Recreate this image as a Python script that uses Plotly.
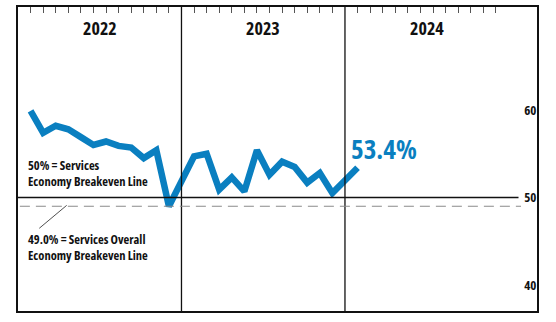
import plotly.graph_objects as go

# ---------------- data ----------------
years = ["2022", "2023", "2024"]
month_numbers = list(range(1, 13))
values_2022 = [59.9, 57.4, 58.2, 57.8, 56.9, 56.0, 56.4, 55.9, 55.7, 54.5, 55.4, 49.0]
values_2023 = [54.7, 55.0, 50.9, 52.3, 50.7, 55.4, 52.6, 54.1, 53.5, 51.7, 52.8, 50.5]
values_2024 = [53.4]
y_tick_values = [40, 50, 60]
breakeven = 50.0
overall_breakeven = 49.0

series = [values_2022, values_2023, values_2024]
SLOT = 13  # month slots per year block (12 months + divider gap)

xs, ys = [], []
for yi, vals in enumerate(series):
    for mi, v in enumerate(vals):
        xs.append(yi * SLOT + month_numbers[mi])
        ys.append(v)

FONT = "Open Sans"
BLUE = "#0a7fc0"


def cond(s):
    return f'<span style="font-stretch:75%;font-weight:bold">{s}</span>'


X_MAX = 41.27
Y_MIN, Y_MAX = 37.03, 71.77

fig = go.Figure()
fig.add_trace(go.Scatter(
    x=xs, y=ys, mode="lines",
    line=dict(color=BLUE, width=6.5),
    hoverinfo="skip", showlegend=False,
))

# year dividers
for yi in range(1, len(years)):
    fig.add_shape(type="line", xref="x", yref="paper",
                  x0=yi * SLOT, x1=yi * SLOT, y0=0, y1=1,
                  line=dict(color="#111111", width=1.3))

# breakeven lines
fig.add_shape(type="line", xref="x", yref="y", x0=0, x1=39.8,
              y0=breakeven, y1=breakeven,
              line=dict(color="#111111", width=1.6))
fig.add_shape(type="line", xref="x", yref="y", x0=0.15, x1=40.0,
              y0=overall_breakeven, y1=overall_breakeven,
              line=dict(color="#8a8a8a", width=1, dash="10px,6px"))
# leader line
fig.add_shape(type="line", xref="x", yref="y", x0=1.69, x1=3.87,
              y0=46.48, y1=overall_breakeven + 0.1,
              line=dict(color="#222222", width=0.8))

# year labels
for yi, yr in enumerate(years):
    start = yi * SLOT
    end = min((yi + 1) * SLOT, X_MAX)
    fig.add_annotation(x=(start + end) / 2, y=69.4, xref="x", yref="y",
                       text=cond(yr), showarrow=False,
                       font=dict(family=FONT, size=18, color="#111111"))

# last value label
fig.add_annotation(x=xs[-1], y=ys[-1], xref="x", yref="y",
                   text=cond(f"{ys[-1]:.1f}%"), showarrow=False,
                   xanchor="left", yanchor="middle", xshift=-9, yshift=19,
                   font=dict(family=FONT, size=27, color=BLUE))

# breakeven texts
fig.add_annotation(x=0.65, y=52.8, xref="x", yref="y",
                   text=cond(f"{breakeven:.0f}% = Services") + "<br>" + cond("Economy Breakeven Line"),
                   showarrow=False, xanchor="left", yanchor="middle", align="left",
                   font=dict(family=FONT, size=12.5, color="#111111"))
fig.add_annotation(x=0.6, y=44.23, xref="x", yref="y",
                   text=cond(f"{overall_breakeven:.1f}% = Services Overall") + "<br>" + cond("Economy Breakeven Line"),
                   showarrow=False, xanchor="left", yanchor="middle", align="left",
                   font=dict(family=FONT, size=12.5, color="#111111"))

tick_x = [yi * SLOT + m for yi in range(len(years)) for m in month_numbers]

fig.update_layout(
    width=556, height=322,
    margin=dict(l=18, r=19, t=7, b=11),
    paper_bgcolor="white", plot_bgcolor="white",
    xaxis=dict(range=[0, X_MAX], side="top", showgrid=False, zeroline=False,
               showline=True, mirror=True, linecolor="#111111", linewidth=2.4,
               ticks="inside", ticklen=6, tickwidth=1, tickcolor="#555555",
               tickvals=tick_x, showticklabels=False, fixedrange=True),
    yaxis=dict(range=[Y_MIN, Y_MAX], side="right", showgrid=False, zeroline=False,
               showline=True, mirror=True, linecolor="#111111", linewidth=2.4,
               ticks="", tickvals=y_tick_values, ticklabelposition="inside",
               ticktext=[cond(str(v)) for v in y_tick_values],
               tickfont=dict(family=FONT, size=13, color="#111111"),
               fixedrange=True),
)

fig.write_html("out.html")
